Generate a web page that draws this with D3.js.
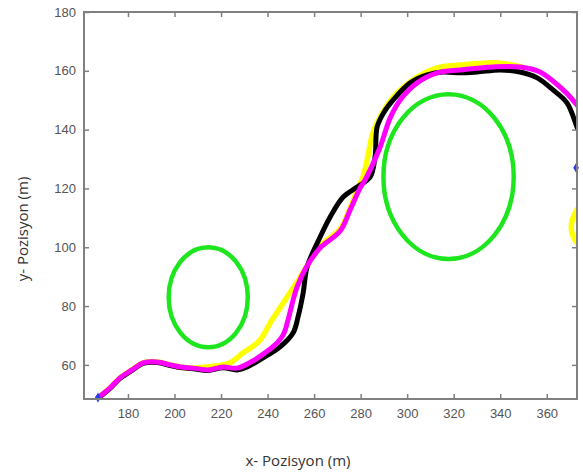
<!DOCTYPE html>
<html>
<head>
<meta charset="utf-8">
<script src="https://cdn.jsdelivr.net/npm/d3@7"></script>
<style>
  html, body { margin: 0; padding: 0; background: #ffffff; }
  svg { display: block; }
</style>
</head>
<body>
<svg id="chart" width="583" height="475"></svg>
<script>
// ---------- data ----------
const xTicks = [180, 200, 220, 240, 260, 280, 300, 320, 340, 360];
const yTicks = [60, 80, 100, 120, 140, 160, 180];
const xDomain = [161.1, 373];
const yDomain = [48.4, 180];

const magentaPath = [
  [167.1,48.8],[172.3,52.2],[176.6,55.6],[181.7,58.3],[186.5,60.7],[192.5,61.0],
  [198.1,60.0],[202.4,59.3],[208.0,58.9],[214.4,58.3],[220.9,59.3],[226.9,58.9],
  [233.8,61.4],[238.9,64.1],[243.2,66.8],[246.7,70.2],[248.8,75.3],[251.0,82.1],
  [252.7,86.5],[256.5,93.0],[262.6,99.8],[271.2,105.5],[275.5,112.7],[279.8,120.2],
  [281.9,122.9],[284.1,126.3],[288.4,134.1],[292.7,144.0],[297.0,150.1],[304.3,155.9],
  [312.9,159.3],[322.8,160.3],[336.9,161.3],[348.5,161.3],[357.1,159.6],[365.7,154.5],
  [373.0,148.4],[375,146]
];

const blackPath = [
  [167.1,48.6],[172.3,52.0],[176.6,55.4],[181.7,58.1],[186.5,60.5],[192.5,60.8],
  [198.1,59.8],[202.4,59.1],[208.0,58.7],[214.4,58.1],[220.9,59.0],[226.9,58.3],
  [231.2,59.3],[238.1,62.4],[245.4,66.1],[251.0,70.9],[253.1,76.3],[255.3,84.5],
  [257.0,93.3],[262.6,103.5],[266.9,110.3],[272.5,117.1],[278.5,120.5],[284.1,123.9],
  [286.2,130.7],[287.1,140.9],[290.1,146.0],[294.0,150.1],[301.3,155.9],[308.6,158.6],
  [315.4,159.6],[322.8,159.3],[330.1,159.6],[340.0,160.3],[348.5,159.6],[355.9,157.6],
  [362.7,153.5],[368.7,149.1],[373.0,140.9],[375,137]
];

const yellowPath = [
  [167.1,48.8],[172.3,52.2],[176.6,55.6],[181.7,58.3],[186.5,60.7],[192.5,61.0],
  [198.1,60.0],[202.4,59.3],[208.0,58.9],[212.5,59.2],[217.4,59.6],[223.9,60.7],
  [229.5,64.1],[233.3,66.1],[236.8,68.5],[241.9,75.3],[245.4,79.4],[248.4,83.1],
  [252.7,88.2],[256.5,93.0],[262.6,100.4],[271.2,106.2],[275.5,113.4],[278.9,120.2],
  [281.0,123.9],[282.8,129.7],[285.3,138.9],[288.4,144.3],[294.0,151.1],[304.3,157.9],
  [312.9,161.0],[322.8,162.0],[334.4,162.7],[343.0,162.3],[349.4,161.3]
];

const yellowArc = [
  [375,115.5],[373.0,112.7],[371.3,110.0],[370.5,106.9],[371.3,103.8],[373.0,101.5],[375,99.5]
];

const obstacles = [
  { cx: 214.5, cy: 83.0, r: 17.0 },
  { cx: 317.8, cy: 124.0, r: 28.0 }
];

const blueMarks = [[167.1, 48.9], [372.6, 127.0]];

// ---------- layout ----------
const svg = d3.select("#chart");
const mLeft = 84, mRight = 577, mTop = 12, mBottom = 399;

const x = d3.scaleLinear().domain(xDomain).range([mLeft, mRight]);
const y = d3.scaleLinear().domain(yDomain).range([mBottom, mTop]);

svg.append("defs").append("clipPath").attr("id", "plotclip")
  .append("rect").attr("x", mLeft).attr("y", mTop)
  .attr("width", mRight - mLeft).attr("height", mBottom - mTop);

const plot = svg.append("g").attr("clip-path", "url(#plotclip)");

// obstacles
plot.selectAll("ellipse.obs").data(obstacles).join("ellipse")
  .attr("class", "obs")
  .attr("cx", d => x(d.cx))
  .attr("cy", d => y(d.cy))
  .attr("rx", d => x(d.cx + d.r) - x(d.cx))
  .attr("ry", d => y(d.cy) - y(d.cy + d.r))
  .attr("fill", "none")
  .attr("stroke", "#1ee61e")
  .attr("stroke-width", 4.5);

const line = d3.line().x(d => x(d[0])).y(d => y(d[1])).curve(d3.curveCatmullRom.alpha(0.5));

function drawPath(data, color, w) {
  plot.append("path").datum(data)
    .attr("d", line)
    .attr("fill", "none")
    .attr("stroke", color)
    .attr("stroke-width", w)
    .attr("stroke-linejoin", "round")
    .attr("stroke-linecap", "round");
}

drawPath(yellowPath, "#ffff00", 5.5);
drawPath(yellowArc, "#ffff00", 5.5);
drawPath(blackPath, "#000000", 5);
drawPath(magentaPath, "#ff00ff", 5);

// blue markers
svg.selectAll("path.blue").data(blueMarks).join("path")
  .attr("class", "blue")
  .attr("transform", d => `translate(${x(d[0])},${y(d[1])})`)
  .attr("d", d3.symbol().type(d3.symbolDiamond).size(28))
  .attr("fill", "#2a3cf0");

// ---------- axes ----------
const axisColor = "#808080";
const tickLen = 5;

const gx = svg.append("g").attr("transform", `translate(0,${mBottom})`)
  .call(d3.axisBottom(x).tickValues(xTicks).tickSizeInner(-tickLen).tickSizeOuter(0).tickPadding(10));
const gy = svg.append("g").attr("transform", `translate(${mLeft},0)`)
  .call(d3.axisLeft(y).tickValues(yTicks).tickSizeInner(-tickLen).tickSizeOuter(0).tickPadding(8));
const gt = svg.append("g").attr("transform", `translate(0,${mTop})`)
  .call(d3.axisTop(x).tickValues(xTicks).tickSizeInner(-tickLen).tickSizeOuter(0).tickFormat(""));
const gr = svg.append("g").attr("transform", `translate(${mRight},0)`)
  .call(d3.axisRight(y).tickValues(yTicks).tickSizeInner(-tickLen).tickSizeOuter(0).tickFormat(""));

[gx, gy, gt, gr].forEach(g => {
  g.select(".domain").remove();
  g.selectAll(".tick line").attr("stroke", axisColor).attr("stroke-width", 1.5);
  g.selectAll(".tick text")
    .attr("fill", "#555555")
    .style("font-family", "'Liberation Sans', Arial, sans-serif")
    .style("font-size", "13px");
});

// box
svg.append("rect")
  .attr("x", mLeft).attr("y", mTop)
  .attr("width", mRight - mLeft).attr("height", mBottom - mTop)
  .attr("fill", "none")
  .attr("stroke", axisColor)
  .attr("stroke-width", 2);

// axis titles
svg.append("text")
  .attr("x", 298).attr("y", 466)
  .attr("text-anchor", "middle")
  .attr("fill", "#333333")
  .style("font-family", "'Open Sans', sans-serif")
  .style("font-size", "15px")
  .text("x- Pozisyon (m)");

svg.append("text")
  .attr("transform", "translate(28,229) rotate(-90)")
  .attr("text-anchor", "middle")
  .attr("fill", "#333333")
  .style("font-family", "'Open Sans', sans-serif")
  .style("font-size", "15px")
  .text("y- Pozisyon (m)");
</script>
</body>
</html>
